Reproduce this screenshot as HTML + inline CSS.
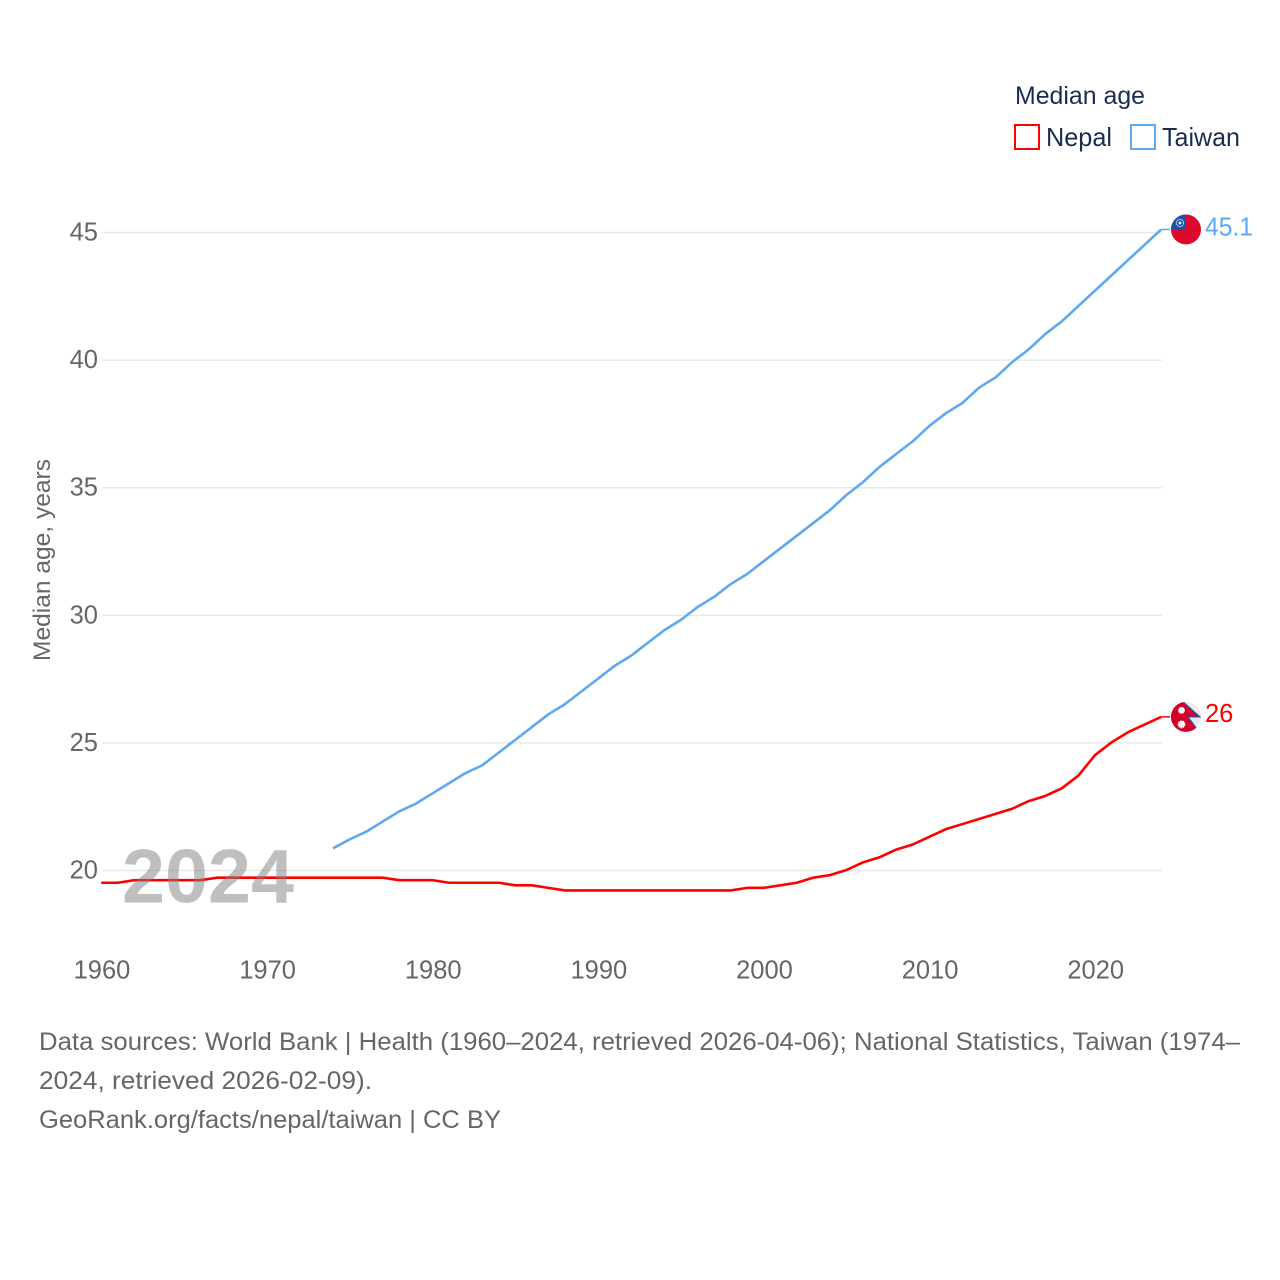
<!DOCTYPE html>
<html lang="en">
<head>
<meta charset="utf-8">
<title>Median age: Nepal and Taiwan</title>
<style>
html,body{margin:0;padding:0;background:#fff;}
svg{display:block;font-family:"Liberation Sans",sans-serif;}
</style>
</head>
<body>
<svg id="chart" width="1280" height="1280" viewBox="0 0 1280 1280" xmlns="http://www.w3.org/2000/svg">
  <defs>
    <clipPath id="clip-taiwan"><circle cx="0" cy="0" r="15"></circle></clipPath>
    <clipPath id="clip-nepal"><circle cx="0" cy="0" r="15"></circle></clipPath>
  </defs>
  <g id="grid"></g>
  <g id="yticks"></g>
  <g id="xticks"></g>
  <text transform="translate(50,560) rotate(-90)" text-anchor="middle" font-size="24.5" fill="#666" textLength="202" lengthAdjust="spacingAndGlyphs">Median age, years</text>
  <g id="series"></g>
  <text x="122" y="902.5" font-size="76" font-weight="700" fill="#808080" fill-opacity="0.5" textLength="172" lengthAdjust="spacingAndGlyphs">2024</text>
  <g id="endmarks"></g>

  <text x="1015" y="104" font-size="25" fill="#1b2d4f" textLength="130" lengthAdjust="spacingAndGlyphs">Median age</text>
  <g>
    <rect x="1015" y="125" width="24" height="24" fill="#fff" stroke="#ff0000" stroke-width="2"></rect>
    <text x="1046" y="146" font-size="26" fill="#1b2d4f" textLength="66" lengthAdjust="spacingAndGlyphs">Nepal</text>
  </g>
  <g>
    <rect x="1131" y="125" width="24" height="24" fill="#fff" stroke="#5ea8ee" stroke-width="2"></rect>
    <text x="1162" y="146" font-size="26" fill="#1b2d4f" textLength="78" lengthAdjust="spacingAndGlyphs">Taiwan</text>
  </g>

  <g font-size="25" fill="#666">
    <text x="39" y="1050" textLength="1201" lengthAdjust="spacingAndGlyphs">Data sources: World Bank | Health (1960–2024, retrieved 2026-04-06); National Statistics, Taiwan (1974–</text>
    <text x="39" y="1089" textLength="333" lengthAdjust="spacingAndGlyphs">2024, retrieved 2026-02-09).</text>
    <text x="39" y="1128" textLength="462" lengthAdjust="spacingAndGlyphs">GeoRank.org/facts/nepal/taiwan | CC BY</text>
  </g>
</svg>
<script>
const yTicks = [20, 25, 30, 35, 40, 45];
const xTicks = [1960, 1970, 1980, 1990, 2000, 2010, 2020];
const nepalYears = [1960,1961,1962,1963,1964,1965,1966,1967,1968,1969,1970,1971,1972,1973,1974,1975,1976,1977,1978,1979,1980,1981,1982,1983,1984,1985,1986,1987,1988,1989,1990,1991,1992,1993,1994,1995,1996,1997,1998,1999,2000,2001,2002,2003,2004,2005,2006,2007,2008,2009,2010,2011,2012,2013,2014,2015,2016,2017,2018,2019,2020,2021,2022,2023,2024];
const nepalValues = [19.5,19.5,19.6,19.6,19.6,19.6,19.6,19.7,19.7,19.7,19.7,19.7,19.7,19.7,19.7,19.7,19.7,19.7,19.6,19.6,19.6,19.5,19.5,19.5,19.5,19.4,19.4,19.3,19.2,19.2,19.2,19.2,19.2,19.2,19.2,19.2,19.2,19.2,19.2,19.3,19.3,19.4,19.5,19.7,19.8,20.0,20.3,20.5,20.8,21.0,21.3,21.6,21.8,22.0,22.2,22.4,22.7,22.9,23.2,23.7,24.5,25.0,25.4,25.7,26.0];
const taiwanYears = [1974,1975,1976,1977,1978,1979,1980,1981,1982,1983,1984,1985,1986,1987,1988,1989,1990,1991,1992,1993,1994,1995,1996,1997,1998,1999,2000,2001,2002,2003,2004,2005,2006,2007,2008,2009,2010,2011,2012,2013,2014,2015,2016,2017,2018,2019,2020,2021,2022,2023,2024];
const taiwanValues = [20.85,21.2,21.5,21.9,22.3,22.6,23.0,23.4,23.8,24.1,24.6,25.1,25.6,26.1,26.5,27.0,27.5,28.0,28.4,28.9,29.4,29.8,30.3,30.7,31.2,31.6,32.1,32.6,33.1,33.6,34.1,34.7,35.2,35.8,36.3,36.8,37.4,37.9,38.3,38.9,39.3,39.9,40.4,41.0,41.5,42.1,42.7,43.3,43.9,44.5,45.1];
const nepalLabel = "26";
const taiwanLabel = "45.1";

const NS = "http://www.w3.org/2000/svg";
const xScale = function (year) { return 101.2 + (year - 1960) * (1161.2 - 101.2) / 64; };
const yScale = function (value) { return 870 - (value - 20) * (870 - 232) / 25; };

function make(tag, parent, attrs, text) {
  const el = document.createElementNS(NS, tag);
  Object.keys(attrs).forEach(function (k) { el.setAttribute(k, attrs[k]); });
  if (text !== undefined) el.textContent = text;
  parent.appendChild(el);
  return el;
}

const gridG = document.getElementById("grid");
const yG = document.getElementById("yticks");
const xG = document.getElementById("xticks");
const seriesG = document.getElementById("series");
const endG = document.getElementById("endmarks");

yTicks.forEach(function (t) {
  const line = make("line", gridG, { x1: xScale(1960) + 0.8, x2: xScale(2024) + 0.8, y1: yScale(t) + 0.5, y2: yScale(t) + 0.5, stroke: "#e8e8e8", "stroke-width": 1.5 });
  
  
  const label = make("text", yG, { x: 98, y: yScale(t) + 8.5, "text-anchor": "end", "font-size": 25.5, fill: "#666" }, String(t));
  
  
});

xTicks.forEach(function (t) {
  const label = make("text", xG, { x: xScale(t) + 0.8, y: 978.5, "text-anchor": "middle", "font-size": 25.5, fill: "#666" }, String(t));
  
  
});

function linePath(years, values) {
  return years.map(function (y, i) {
    return (i ? "L" : "M") + xScale(y).toFixed(2) + " " + yScale(values[i]).toFixed(2);
  }).join(" ");
}

const nepalLine = make("path", seriesG, { d: linePath(nepalYears, nepalValues), fill: "none", stroke: "#ff0000", "stroke-width": 2.6, "stroke-linejoin": "round" });



const taiwanLine = make("path", seriesG, { d: linePath(taiwanYears, taiwanValues), fill: "none", stroke: "#5ea8ee", "stroke-width": 2.6, "stroke-linejoin": "round" });



/* End markers */
const flagX = 1186;
const taiwanEnd = yScale(taiwanValues[taiwanValues.length - 1]);
const nepalEnd = yScale(nepalValues[nepalValues.length - 1]);

const taiwanStub = make("line", endG, { x1: xScale(2024), x2: 1170, y1: taiwanEnd, y2: taiwanEnd, stroke: "#5ea8ee", "stroke-width": 1.5 });



const nepalStub = make("line", endG, { x1: xScale(2024), x2: 1170, y1: nepalEnd, y2: nepalEnd, stroke: "#ff0000", "stroke-width": 1.5 });



/* Taiwan flag */
const taiwanFlag = make("g", endG, { transform: "translate(" + flagX + "," + taiwanEnd + ")" });


const taiwanClip = make("g", taiwanFlag, { "clip-path": "url(#clip-taiwan)" });
make("rect", taiwanClip, { x: -15, y: -15, width: 30, height: 30, fill: "#dc0a2d" });
make("rect", taiwanClip, { x: -15, y: -15, width: 15, height: 15, fill: "#1c52ac" });
make("circle", taiwanClip, { cx: -6, cy: -6.5, r: 3.6, fill: "none", stroke: "#c8d8f0", "stroke-width": 1.2, "stroke-dasharray": "1.5 0.8" });
make("circle", taiwanClip, { cx: -6, cy: -6.5, r: 1.4, fill: "#e8eef8" });

/* Nepal flag */
const nepalFlag = make("g", endG, { transform: "translate(" + flagX + "," + nepalEnd + ")" });


const nepalClip = make("g", nepalFlag, { "clip-path": "url(#clip-nepal)" });
make("rect", nepalClip, { x: -15, y: -15, width: 30, height: 30, fill: "#ececec" });
make("path", nepalClip, { d: "M-16 -16 L-4 -16 L14 0 L2 0 L13 15 L13 17 L-16 17 Z", fill: "#d4002a", stroke: "#2a55b0", "stroke-width": 1.2 });
make("rect", nepalClip, { x: -16, y: -16, width: 2, height: 32, fill: "#d4002a" });
make("circle", nepalClip, { cx: -4.5, cy: -6.5, r: 3.4, fill: "#f6f6f6" });
make("circle", nepalClip, { cx: -4.5, cy: 7.5, r: 3.4, fill: "#f6f6f6", stroke: "#f6f6f6", "stroke-width": 1.2, "stroke-dasharray": "1.4 1" });

const taiwanValueLabel = make("text", endG, { x: 1205, y: taiwanEnd + 6, "font-size": 25.5, fill: "#5ea8ee", textLength: 48, lengthAdjust: "spacingAndGlyphs" }, taiwanLabel);



const nepalValueLabel = make("text", endG, { x: 1205, y: nepalEnd + 5, "font-size": 25.5, fill: "#ff0000" }, nepalLabel);


</script>
</body>
</html>
